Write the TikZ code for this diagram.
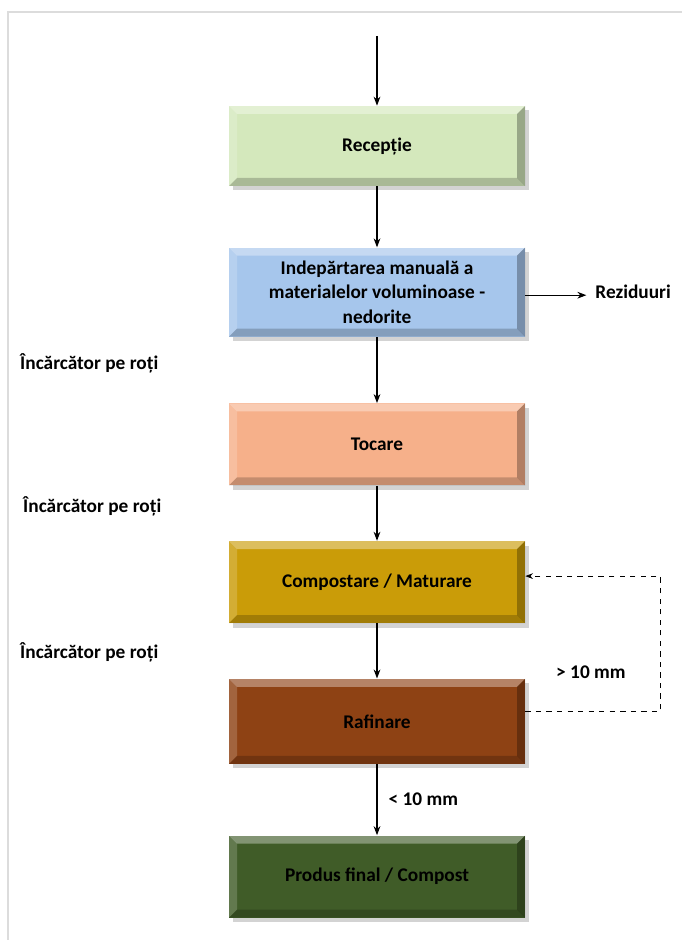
\documentclass[tikz,border=0pt]{standalone}
\usepackage{fontspec}
\setmainfont{Carlito}
\usepackage{tikz}
\usetikzlibrary{arrows.meta,shapes,positioning,calc,shadows}
\definecolor{recgreen}{RGB}{212,232,188}
\definecolor{indblue}{RGB}{166,198,236}
\definecolor{tocpeach}{RGB}{246,176,138}
\definecolor{compgold}{RGB}{202,156,8}
\definecolor{rafbrown}{RGB}{142,66,20}
\definecolor{prodgreen}{RGB}{64,92,40}
\definecolor{framegray}{RGB}{220,220,220}

\begin{document}
\begin{tikzpicture}[
    node distance=1.2cm,
    stepbox/.style={rectangle, minimum width=5.92cm, minimum height=1.64cm, align=center,
        font=\fontsize{11}{14}\selectfont\bfseries,
        drop shadow={shadow xshift=2pt, shadow yshift=-2.5pt, opacity=0.35},
        path picture={
            \coordinate (bnw) at (path picture bounding box.north west);
            \coordinate (bne) at (path picture bounding box.north east);
            \coordinate (bsw) at (path picture bounding box.south west);
            \coordinate (bse) at (path picture bounding box.south east);
            \fill[white, opacity=0.35] (bnw) -- (bne) -- ([shift={(-0.16,-0.16)}]bne) -- ([shift={(0.16,-0.16)}]bnw) -- cycle;
            \fill[white, opacity=0.18] (bnw) -- ([shift={(0.16,-0.16)}]bnw) -- ([shift={(0.16,0.16)}]bsw) -- (bsw) -- cycle;
            \fill[black, opacity=0.28] (bne) -- (bse) -- ([shift={(-0.16,0.16)}]bse) -- ([shift={(-0.16,-0.16)}]bne) -- cycle;
            \fill[black, opacity=0.2] (bsw) -- ([shift={(0.16,0.16)}]bsw) -- ([shift={(-0.16,0.16)}]bse) -- (bse) -- cycle;
        }},
    lbl/.style={font=\fontsize{11}{14}\selectfont\bfseries},
    arrow/.style={-{Stealth[scale=0.9]}, semithick}
]

% Frame
\useasboundingbox (0,0) rectangle (13.64,-18.8);
\draw[framegray, line width=1pt] (0.16,-18.8) -- (0.16,-0.24) -- (13.64,-0.24);

% Main flow
\coordinate (start) at (7.54,-0.72);
\node[stepbox, fill=recgreen, minimum height=1.6cm] (rec) at (7.54,-2.92) {Recepție};
\node[stepbox, fill=indblue, minimum height=1.78cm, below=1.22cm of rec] (ind) {Indepărtarea manuală a\\materialelor voluminoase -\\nedorite};
\node[stepbox, fill=tocpeach, below=1.32cm of ind] (toc) {Tocare};
\node[stepbox, fill=compgold, below=1.1cm of toc] (comp) {Compostare / Maturare};
\node[stepbox, fill=rafbrown, minimum height=1.7cm, below=1.1cm of comp] (raf) {Rafinare};
\node[stepbox, fill=prodgreen, below=1.42cm of raf] (prod) {Produs final / Compost};

% Side outputs
\node[lbl, right=1.22cm of ind, inner sep=5pt] (rez) {Reziduuri};
\node[lbl, anchor=west] (gt) at (11.0,-13.44) {> 10 mm};

% Loader labels
\node[lbl, anchor=west] (inc1) at (0.28,-7.26) {Încărcător pe roți};
\node[lbl, anchor=west] (inc2) at (0.34,-10.12) {Încărcător pe roți};
\node[lbl, anchor=west] (inc3) at (0.28,-13.04) {Încărcător pe roți};

% Arrows
\draw[arrow] (start) -- (rec);
\draw[arrow] (rec) -- (ind);
\draw[arrow] (ind) -- (toc);
\draw[arrow] (toc) -- (comp);
\draw[arrow] (comp) -- (raf);
\draw[arrow] (raf) -- node[lbl, right=3pt] (lt) {< 10 mm} (prod);
\draw[arrow] ([yshift=-0.06cm]ind.east) -- ([yshift=-0.06cm]rez.west);

% Return loop
\draw[arrow, dashed, thin] ([yshift=0.2cm]raf.east) -- ++(2.7,0) |- ([yshift=0.12cm]comp.east);

\end{tikzpicture}
\end{document}
